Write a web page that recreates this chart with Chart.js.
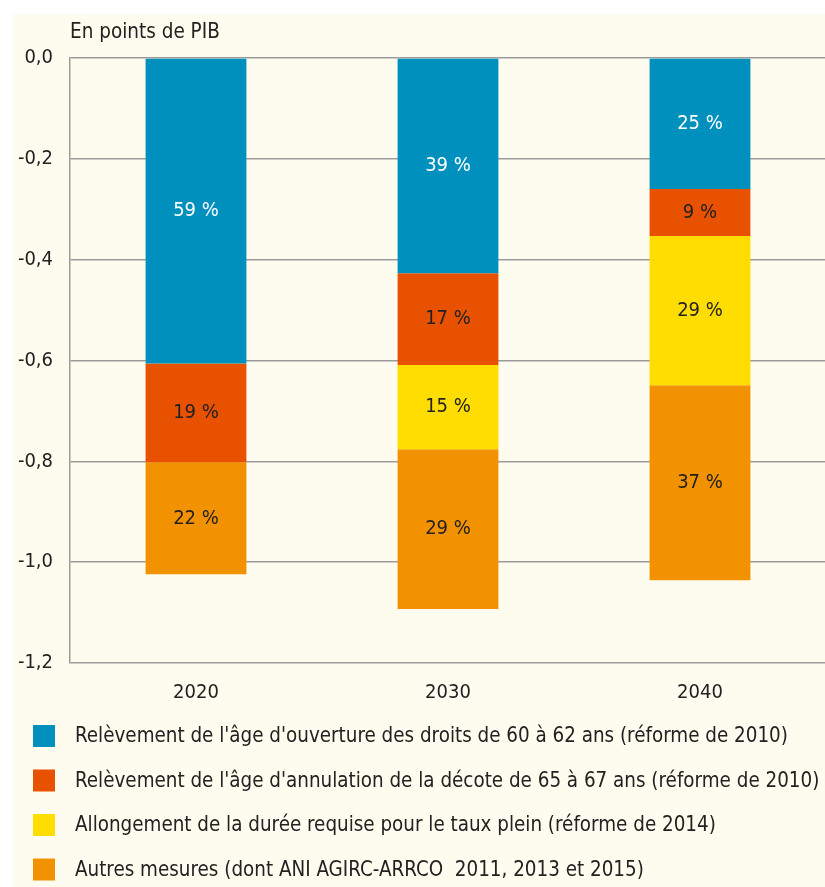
<!DOCTYPE html>
<html><head><meta charset="utf-8">
<script src="https://cdn.jsdelivr.net/npm/chart.js@4.4.1/dist/chart.umd.min.js"></script>
<style>
html,body{margin:0;padding:0;background:#fff;overflow:hidden}
#wrap{position:relative;width:825px;height:887px;overflow:hidden}
canvas{display:block}
</style></head><body>
<div id="wrap"><canvas id="c" width="826" height="887"></canvas></div>
<script>
// ---- data ----
const categories = ['2020', '2030', '2040'];
const seriesNames = [
  "Relèvement de l'âge d'ouverture des droits de 60 à 62 ans (réforme de 2010)",
  "Relèvement de l'âge d'annulation de la décote de 65 à 67 ans (réforme de 2010)",
  "Allongement de la durée requise pour le taux plein (réforme de 2014)",
  "Autres mesures (dont ANI AGIRC-ARRCO  2011, 2013 et 2015)"
];
const ageOuverture = [-0.606, -0.427, -0.260];
const ageAnnulation = [-0.196, -0.182, -0.093];
const dureeRequise = [null, -0.167, -0.296];
const autresMesures = [-0.222, -0.317, -0.387];
const pctAgeOuverture = ['59 %', '39 %', '25 %'];
const pctAgeAnnulation = ['19 %', '17 %', '9 %'];
const pctDureeRequise = [null, '15 %', '29 %'];
const pctAutresMesures = ['22 %', '29 %', '37 %'];
const yTickValues = [0, -0.2, -0.4, -0.6, -0.8, -1.0, -1.2];
const yTickLabels = ['0,0', '-0,2', '-0,4', '-0,6', '-0,8', '-1,0', '-1,2'];
const unitLabel = 'En points de PIB';

const colors = ['#0090bd', '#e85100', '#ffdd00', '#f39200'];
const labelColors = ['#ffffff', '#222222', '#222222', '#222222'];
const FONT = "'Liberation Sans Narrow', 'DejaVu Sans Condensed', 'Liberation Sans', sans-serif";

const seriesValues = [ageOuverture, ageAnnulation, dureeRequise, autresMesures];
const seriesPct = [pctAgeOuverture, pctAgeAnnulation, pctDureeRequise, pctAutresMesures];

const datasets = seriesValues.map((vals, i) => ({
  label: seriesNames[i],
  data: vals,
  backgroundColor: colors[i],
  borderWidth: 0,
  barPercentage: 0.4,
  categoryPercentage: 1.0,
  stack: 's',
  pct: seriesPct[i],
  labelColor: labelColors[i]
}));

const bgPlugin = {
  id: 'bg',
  beforeDraw(chart) {
    const ctx = chart.ctx;
    ctx.save();
    ctx.fillStyle = '#ffffff';
    ctx.fillRect(0, 0, chart.width, chart.height);
    ctx.fillStyle = '#fefcef';
    ctx.fillRect(12, 14, chart.width - 12, chart.height - 14);
    ctx.restore();
  }
};

const textPlugin = {
  id: 'texts',
  afterDatasetsDraw(chart) {
    const ctx = chart.ctx;
    ctx.save();
    ctx.font = '20px ' + FONT;
    ctx.textAlign = 'center';
    ctx.textBaseline = 'middle';
    chart.data.datasets.forEach((ds, di) => {
      const meta = chart.getDatasetMeta(di);
      meta.data.forEach((el, i) => {
        const t = ds.pct[i];
        if (!t || ds.data[i] == null) return;
        ctx.fillStyle = ds.labelColor;
        ctx.fillText(t, el.x, (el.y + el.base) / 2);
      });
    });
    ctx.restore();
  },
  afterDraw(chart) {
    const ctx = chart.ctx;
    ctx.save();
    // unit label
    ctx.font = '20.5px ' + FONT;
    ctx.fillStyle = '#222';
    ctx.textAlign = 'left';
    ctx.textBaseline = 'alphabetic';
    ctx.fillText(unitLabel, 70, 38);
    // legend
    ctx.font = '20.4px ' + FONT;
    ctx.textBaseline = 'middle';
    chart.data.datasets.forEach((ds, i) => {
      const y = 736 + i * 44.5;
      ctx.fillStyle = ds.backgroundColor;
      ctx.fillRect(33, y - 11, 22, 22);
      ctx.fillStyle = '#222';
      ctx.fillText(ds.label, 75, y + 1);
    });
    ctx.restore();
  }
};

new Chart(document.getElementById('c'), {
  type: 'bar',
  data: { labels: categories, datasets },
  plugins: [bgPlugin, textPlugin],
  options: {
    responsive: false,
    animation: false,
    devicePixelRatio: 1,
    layout: { padding: { left: 0, right: 0, top: 58, bottom: 179 } },
    plugins: { legend: { display: false }, tooltip: { enabled: false } },
    scales: {
      x: {
        stacked: true,
        grid: { display: false, drawTicks: false },
        border: { display: false },
        ticks: { color: '#222', font: { family: FONT, size: 20 }, padding: 18 },
        afterFit(s) { s.height = 45; }
      },
      y: {
        stacked: true,
        min: -1.2,
        max: 0,
        afterBuildTicks(s) { s.ticks = yTickValues.map(v => ({ value: v })); },
        ticks: {
          color: '#222',
          font: { family: FONT, size: 20 },
          padding: 17,
          callback: (v, i) => yTickLabels[i]
        },
        grid: { color: '#9b9b9b', lineWidth: 1.5, drawTicks: false },
        border: { display: true, color: '#9b9b9b', width: 1.5 },
        afterFit(s) { s.width = 70; }
      }
    }
  }
});
</script>
</body></html>
